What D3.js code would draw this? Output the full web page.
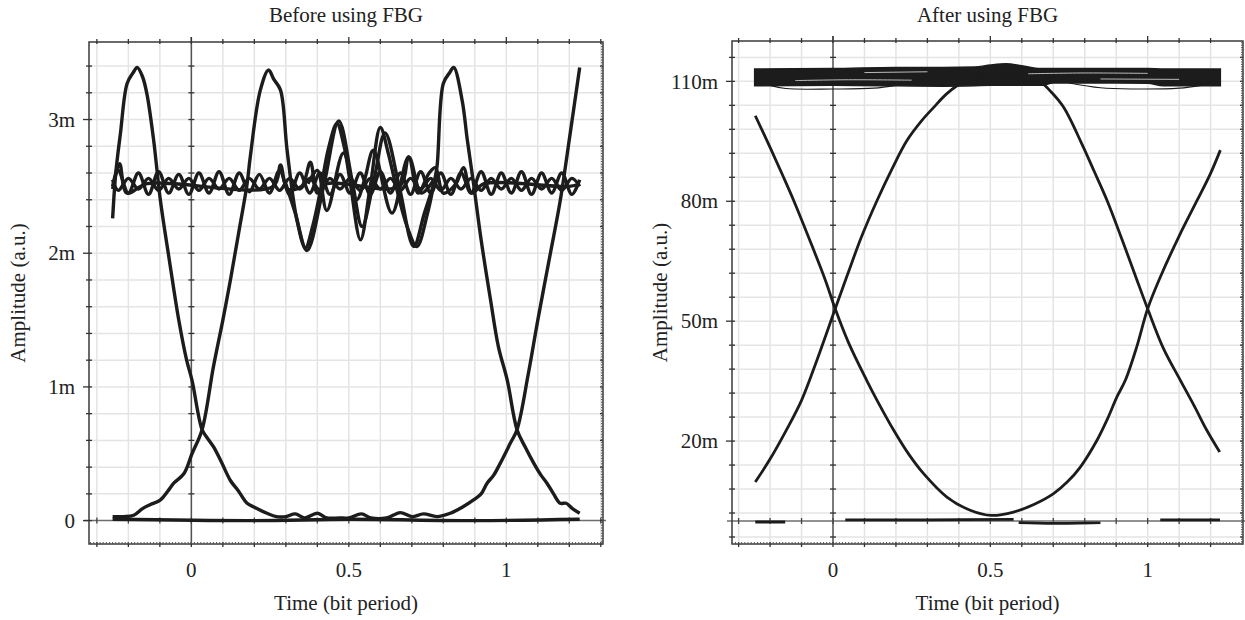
<!DOCTYPE html>
<html>
<head>
<meta charset="utf-8">
<script src="https://cdn.jsdelivr.net/npm/d3@7"></script>
<style>
  body { margin: 0; background: #fff; }
  text { font-family: "Liberation Serif", "DejaVu Serif", serif; fill: #222; }
</style>
</head>
<body>
<script>
// ---- data (time in bit periods, amplitude in m-units) ----

// x tick labels shared by both panels
const timeTicks = [0, 0.5, 1];
const timeTickLabels = ["0", "0.5", "1"];

// before FBG
const beforeTicks = [0, 1, 2, 3];
const beforeTickLabels = ["0", "1m", "2m", "3m"];

// pulse falling from first peak, tail near zero, rising to last peak
const beforeEdgeA = [
  [-0.25, 2.26], [-0.24, 2.6], [-0.225, 2.9], [-0.204, 3.27], [-0.185, 3.35], [-0.172, 3.39],
  [-0.155, 3.32], [-0.141, 3.19], [-0.12, 2.85], [-0.098, 2.39], [-0.07, 1.95], [-0.04, 1.5],
  [-0.015, 1.2], [0.002, 1.05], [0.034, 0.68], [0.05, 0.62], [0.071, 0.55], [0.095, 0.44],
  [0.124, 0.3], [0.15, 0.22], [0.177, 0.13], [0.2, 0.1], [0.24, 0.055], [0.27, 0.03],
  [0.3, 0.03], [0.33, 0.05], [0.36, 0.02], [0.4, 0.055], [0.43, 0.02], [0.47, 0.02],
  [0.5, 0.02], [0.54, 0.05], [0.57, 0.02], [0.62, 0.02], [0.663, 0.06], [0.7, 0.03],
  [0.737, 0.05], [0.78, 0.03], [0.822, 0.055], [0.86, 0.1], [0.896, 0.155], [0.92, 0.2],
  [0.939, 0.28], [0.96, 0.34], [0.981, 0.43], [1.013, 0.58], [1.034, 0.68], [1.07, 1.1],
  [1.1, 1.5], [1.14, 2.0], [1.171, 2.39], [1.203, 2.9], [1.233, 3.39]
];

// rising from zero, middle peak, ringing, last peak, falling tail
const beforeEdgeB = [
  [-0.25, 0.03], [-0.215, 0.03], [-0.183, 0.04], [-0.155, 0.09], [-0.13, 0.12], [-0.098, 0.155],
  [-0.075, 0.22], [-0.056, 0.28], [-0.024, 0.35], [0.002, 0.5], [0.034, 0.68], [0.07, 1.15],
  [0.1, 1.5], [0.124, 1.8], [0.15, 2.15], [0.177, 2.52], [0.187, 2.72], [0.219, 3.22],
  [0.245, 3.37], [0.262, 3.3], [0.283, 3.22], [0.304, 2.77], [0.335, 2.25], [0.362, 2.04],
  [0.385, 2.2], [0.41, 2.47], [0.435, 2.78], [0.462, 2.97], [0.485, 2.8], [0.505, 2.52],
  [0.537, 2.1], [0.568, 2.5], [0.6, 2.94], [0.625, 2.75], [0.65, 2.5], [0.685, 2.2],
  [0.716, 2.05], [0.75, 2.3], [0.77, 2.52], [0.78, 2.65], [0.8, 3.27], [0.82, 3.35],
  [0.833, 3.39], [0.86, 3.14], [0.876, 2.85], [0.896, 2.52], [0.92, 2.1], [0.95, 1.65],
  [0.975, 1.3], [1.003, 1.05], [1.034, 0.68], [1.06, 0.55], [1.087, 0.43], [1.11, 0.34],
  [1.129, 0.28], [1.15, 0.2], [1.171, 0.13], [1.19, 0.13], [1.21, 0.09], [1.233, 0.055]
];

// extra ringing traces around the "1" level
const beforeOscB = [
  [0.3, 2.52], [0.33, 2.3], [0.367, 2.02], [0.42, 2.5], [0.468, 2.99], [0.51, 2.55],
  [0.542, 2.2], [0.58, 2.55], [0.615, 2.9], [0.66, 2.5], [0.706, 2.05], [0.74, 2.3], [0.77, 2.52]
];
const beforeOscC = [
  [0.37, 2.52], [0.4, 2.62], [0.43, 2.32], [0.483, 2.75], [0.525, 2.4], [0.55, 2.55],
  [0.578, 2.77], [0.637, 2.3], [0.69, 2.72], [0.73, 2.45], [0.77, 2.55]
];

// "1" level with ripple
const beforeRippleA = [
  [-0.25, 2.48], [-0.232, 2.62], [-0.2, 2.45], [-0.168, 2.6], [-0.136, 2.44], [-0.104, 2.61],
  [-0.072, 2.45], [-0.04, 2.59], [-0.008, 2.44], [0.024, 2.6], [0.056, 2.45], [0.088, 2.61],
  [0.12, 2.44], [0.152, 2.6], [0.184, 2.46], [0.216, 2.59], [0.248, 2.45], [0.28, 2.62],
  [0.312, 2.44], [0.344, 2.6], [0.376, 2.45], [0.408, 2.6], [0.44, 2.44], [0.472, 2.59],
  [0.504, 2.45], [0.536, 2.6], [0.568, 2.44], [0.6, 2.61], [0.632, 2.45], [0.664, 2.6],
  [0.696, 2.44], [0.728, 2.61], [0.76, 2.45], [0.792, 2.6], [0.824, 2.44], [0.856, 2.6],
  [0.888, 2.45], [0.92, 2.61], [0.952, 2.44], [0.984, 2.6], [1.016, 2.45], [1.048, 2.61],
  [1.08, 2.44], [1.112, 2.6], [1.144, 2.45], [1.176, 2.6], [1.208, 2.44], [1.233, 2.55]
];
const beforeRippleB = [
  [-0.25, 2.55], [-0.232, 2.47], [-0.2, 2.56], [-0.168, 2.48], [-0.136, 2.56], [-0.104, 2.47],
  [-0.072, 2.56], [-0.04, 2.48], [-0.008, 2.56], [0.024, 2.47], [0.056, 2.56], [0.088, 2.48],
  [0.12, 2.56], [0.152, 2.47], [0.184, 2.56], [0.216, 2.48], [0.248, 2.56], [0.28, 2.47],
  [0.312, 2.56], [0.344, 2.48], [0.376, 2.56], [0.408, 2.47], [0.44, 2.56], [0.472, 2.48],
  [0.504, 2.56], [0.536, 2.47], [0.568, 2.56], [0.6, 2.48], [0.632, 2.56], [0.664, 2.47],
  [0.696, 2.56], [0.728, 2.48], [0.76, 2.56], [0.792, 2.47], [0.824, 2.56], [0.856, 2.48],
  [0.888, 2.56], [0.92, 2.47], [0.952, 2.56], [0.984, 2.48], [1.016, 2.56], [1.048, 2.47],
  [1.08, 2.56], [1.112, 2.48], [1.144, 2.56], [1.176, 2.47], [1.208, 2.56], [1.233, 2.5]
];
const beforeRippleC = [
  [-0.25, 2.5], [-0.228, 2.67], [-0.205, 2.45], [-0.14, 2.52], [0.26, 2.5], [0.283, 2.66],
  [0.305, 2.48], [0.35, 2.5], [0.378, 2.68], [0.4, 2.45], [0.43, 2.52], [0.66, 2.5],
  [0.69, 2.72], [0.72, 2.45], [0.755, 2.6], [0.775, 2.64], [0.8, 2.45], [0.84, 2.52],
  [0.864, 2.64], [0.89, 2.45], [0.93, 2.52], [1.2, 2.5], [1.233, 2.52]
];
// "0" level
const beforeZero = [[-0.25, 0.01], [0.2, 0.0], [0.5, 0.01], [0.9, 0.0], [1.233, 0.01]];

// after FBG
const afterTicks = [20, 50, 80, 110];
const afterTickLabels = ["20m", "50m", "80m", "110m"];

const afterFallRise = [
  [-0.247, 101.4], [-0.2, 93.5], [-0.16, 86.5], [-0.125, 80.2], [-0.075, 70.5], [-0.024, 60.2],
  [0.007, 53.1], [0.05, 44.5], [0.107, 35.2], [0.14, 30.2], [0.193, 22.7], [0.24, 16.8],
  [0.288, 11.85], [0.362, 6.0], [0.436, 2.7], [0.503, 1.4], [0.574, 2.25], [0.64, 4.2],
  [0.701, 6.85], [0.745, 9.8], [0.786, 13.5], [0.839, 20.2], [0.872, 25.5], [0.902, 31],
  [0.929, 35.2], [0.965, 43.5], [1.0, 53.1], [1.04, 61], [1.1, 71.3], [1.157, 80.2],
  [1.2, 87], [1.231, 92.8]
];
const afterRiseFall = [
  [-0.247, 9.75], [-0.2, 15.5], [-0.15, 22.5], [-0.1, 30.2], [-0.05, 40.5], [0.007, 53.1],
  [0.05, 62.5], [0.09, 71], [0.14, 80.2], [0.19, 88.5], [0.235, 95.2],
  [0.28, 100], [0.32, 103.5], [0.36, 106.8], [0.394, 108.9], [0.415, 109.8], [0.46, 110.8],
  [0.52, 111.2], [0.6, 110.8], [0.659, 109.75], [0.695, 107.2], [0.733, 103.5], [0.79, 94.5],
  [0.83, 87.5], [0.871, 80.2], [0.93, 68], [0.965, 60.5], [1.0, 53.1], [1.05, 43.2],
  [1.104, 35.2], [1.15, 28.5], [1.188, 22.7], [1.229, 17.25]
];
// thick "1" band: upper and lower edges at the same times
const afterBandTime = [-0.249, 0.0, 0.2, 0.35, 0.45, 0.5, 0.55, 0.6, 0.66, 0.7, 0.9, 1.0, 1.05, 1.231];
const afterBandUpper = [113.1, 113.2, 113.5, 113.5, 113.6, 114.1, 114.4, 113.9, 113.2, 113.2, 113.2, 113.2, 113.1, 113.1];
const afterBandLower = [108.9, 109.0, 108.9, 108.8, 108.9, 109.0, 109.0, 109.0, 109.0, 109.6, 109.6, 109.5, 108.9, 108.9];
const afterLoops = [
  [[-0.2, 109], [-0.15, 108.2], [0.0, 108.1], [0.13, 108.3], [0.2, 109]],
  [[0.75, 109.6], [0.85, 108.4], [0.95, 108.1], [1.1, 108.3], [1.17, 109]]
];
// light streaks inside the band
const afterBandGaps = [
  [[-0.12, 110.2], [0.05, 110.4], [0.25, 110.3]],
  [[0.1, 112.2], [0.3, 112.4]],
  [[0.62, 111.9], [0.8, 112.1], [1.0, 112.0]],
  [[0.85, 110.6], [1.1, 110.5]]
];
// "0" level, drawn in pieces
const afterZero = [
  [-0.247, -0.25], [-0.152, -0.25], null,
  [0.039, 0.3], [0.3, 0.3], [0.574, 0.4], null,
  [0.59, -0.4], [0.7, -0.6], [0.85, -0.4], null,
  [1.04, 0.3], [1.23, 0.3]
];

// ---- layout ----
const svg = d3.select("body").append("svg")
  .attr("width", 1245)
  .attr("height", 620);

const timeGrid = d3.range(-3, 14).map(i => i / 10);

const panels = [
  {
    title: "Before using FBG",
    left: 89, right: 603, top: 42, bottom: 544,
    xDomain: [-0.325, 1.307], yDomain: [-0.175, 3.58],
    yGrid: d3.range(0, 18).map(i => i * 0.2),
    yMinor: 0.02,
    yTicks: beforeTicks, yTickLabels: beforeTickLabels,
    labelX: 25, strokeW: 3.4,
    traces: [beforeRippleA, beforeRippleB, beforeRippleC, beforeOscB, beforeOscC, beforeEdgeA, beforeEdgeB, beforeZero]
  },
  {
    title: "After using FBG",
    left: 732, right: 1243, top: 41, bottom: 544,
    xDomain: [-0.321, 1.303], yDomain: [-5.75, 120.1],
    yGrid: d3.range(-4, 120, 6),
    yMinor: 0.6,
    yTicks: afterTicks, yTickLabels: afterTickLabels,
    labelX: 667, strokeW: 2.8,
    traces: [afterFallRise, afterRiseFall, afterZero]
  }
];

const drawPanel = (p, idx) => {
  let g = svg.append("g");
  let x = d3.scaleLinear().domain(p.xDomain).range([p.left, p.right]);
  let y = d3.scaleLinear().domain(p.yDomain).range([p.bottom, p.top]);
  let yGrid = p.yGrid.filter(v => y(v) > p.top + 1 && y(v) < p.bottom - 1);
  let xGrid = timeGrid.filter(t => x(t) > p.left + 1 && x(t) < p.right - 1);

  // grid
  g.selectAll(".gx").data(xGrid).join("line")
    .attr("x1", t => x(t)).attr("x2", t => x(t))
    .attr("y1", p.top).attr("y2", p.bottom)
    .attr("stroke", "#e4e4e4").attr("stroke-width", 1.5);
  g.selectAll(".gy").data(yGrid.filter(v => Math.abs(v) > 1e-9)).join("line")
    .attr("x1", p.left).attr("x2", p.right)
    .attr("y1", v => y(v)).attr("y2", v => y(v))
    .attr("stroke", "#e4e4e4").attr("stroke-width", 1.5);

  // axes through zero
  g.append("line")
    .attr("x1", p.left - 5).attr("x2", p.right + 3)
    .attr("y1", y(0)).attr("y2", y(0))
    .attr("stroke", "#6e6e6e").attr("stroke-width", 1.5);
  g.append("line")
    .attr("x1", x(0)).attr("x2", x(0))
    .attr("y1", p.top - 5).attr("y2", p.bottom)
    .attr("stroke", "#555").attr("stroke-width", 1.5);
  g.selectAll(".tz").data(yGrid).join("line")
    .attr("x1", x(0) - 3).attr("x2", x(0) + 3)
    .attr("y1", v => y(v)).attr("y2", v => y(v))
    .attr("stroke", "#333").attr("stroke-width", 1.3);
  g.selectAll(".tzx").data(xGrid).join("line")
    .attr("x1", t => x(t)).attr("x2", t => x(t))
    .attr("y1", y(0) - 3).attr("y2", y(0) + 3)
    .attr("stroke", "#444").attr("stroke-width", 1.3);

  // traces
  let clipId = "clip" + idx;
  svg.append("clipPath").attr("id", clipId)
    .append("rect")
    .attr("x", p.left).attr("y", p.top)
    .attr("width", p.right - p.left).attr("height", p.bottom - p.top);
  let plot = g.append("g").attr("clip-path", `url(#${clipId})`);
  let line = d3.line().defined(d => d)
    .curve(d3.curveCatmullRom.alpha(0.5))
    .x(d => x(d[0])).y(d => y(d[1]));

  if (idx === 1) {
    let band = d3.area()
      .curve(d3.curveMonotoneX)
      .x((d, i) => x(afterBandTime[i]))
      .y0((d, i) => y(afterBandLower[i]))
      .y1(d => y(d));
    plot.append("path").datum(afterBandUpper)
      .attr("d", band).attr("fill", "#1c1c1c").attr("stroke", "#1c1c1c").attr("stroke-width", 1.5);
    plot.selectAll(".gap").data(afterBandGaps).join("path")
      .attr("d", line).attr("fill", "none").attr("stroke", "#bbb").attr("stroke-width", 1);
    plot.selectAll(".loop").data(afterLoops).join("path")
      .attr("d", line).attr("fill", "none").attr("stroke", "#1c1c1c").attr("stroke-width", 1.1);
  }

  plot.selectAll(".trace").data(p.traces).join("path")
    .attr("d", line)
    .attr("fill", "none")
    .attr("stroke", "#1c1c1c")
    .attr("stroke-width", p.strokeW)
    .attr("stroke-linejoin", "round");

  // frame
  g.append("rect")
    .attr("x", p.left).attr("y", p.top)
    .attr("width", p.right - p.left).attr("height", p.bottom - p.top)
    .attr("fill", "none").attr("stroke", "#3a3a3a").attr("stroke-width", 1.5);

  // spine ticks
  g.selectAll(".tl").data(yGrid).join("line")
    .attr("x1", v => p.yTicks.some(k => Math.abs(k - v) < 1e-6) ? p.left - 6 : p.left - 3)
    .attr("x2", p.left + 3)
    .attr("y1", v => y(v)).attr("y2", v => y(v))
    .attr("stroke", "#333").attr("stroke-width", 1.3);
  g.selectAll(".tr").data(yGrid).join("line")
    .attr("x1", p.right - 3).attr("x2", p.right)
    .attr("y1", v => y(v)).attr("y2", v => y(v))
    .attr("stroke", "#333").attr("stroke-width", 1.3);
  let rightMinor = d3.range(p.yDomain[0], p.yDomain[1], p.yMinor);
  g.selectAll(".trm").data(rightMinor).join("line")
    .attr("x1", p.right - 2).attr("x2", p.right)
    .attr("y1", v => y(v)).attr("y2", v => y(v))
    .attr("stroke", "#555").attr("stroke-width", 1);
  g.selectAll(".tt").data(xGrid).join("line")
    .attr("x1", t => x(t)).attr("x2", t => x(t))
    .attr("y1", t => timeTicks.includes(Math.round(t * 10) / 10) ? p.top - 5 : p.top - 3)
    .attr("y2", p.top + 2)
    .attr("stroke", "#333").attr("stroke-width", 1.3);
  g.selectAll(".tb").data(xGrid).join("line")
    .attr("x1", t => x(t)).attr("x2", t => x(t))
    .attr("y1", p.bottom - 2).attr("y2", p.bottom + 3)
    .attr("stroke", "#333").attr("stroke-width", 1.3);
  let bottomMinor = d3.range(-32, 131).map(i => i / 100);
  g.selectAll(".tbm").data(bottomMinor.filter(t => x(t) > p.left && x(t) < p.right)).join("line")
    .attr("x1", t => x(t)).attr("x2", t => x(t))
    .attr("y1", p.bottom - 2).attr("y2", p.bottom)
    .attr("stroke", "#555").attr("stroke-width", 1);

  // labels
  g.selectAll(".yl").data(p.yTicks).join("text")
    .attr("x", p.left - 14)
    .attr("y", v => y(v))
    .attr("dy", "0.34em")
    .attr("text-anchor", "end")
    .attr("font-size", 21)
    .text((v, i) => p.yTickLabels[i]);
  g.selectAll(".xl").data(timeTicks).join("text")
    .attr("x", t => x(t))
    .attr("y", 577)
    .attr("text-anchor", "middle")
    .attr("font-size", 21)
    .text((t, i) => timeTickLabels[i]);
  g.append("text")
    .attr("x", (p.left + p.right) / 2).attr("y", 610)
    .attr("text-anchor", "middle").attr("font-size", 21)
    .text("Time (bit period)");
  g.append("text")
    .attr("x", (p.left + p.right) / 2).attr("y", 22)
    .attr("text-anchor", "middle").attr("font-size", 21)
    .text(p.title);
  g.append("text")
    .attr("transform", `translate(${p.labelX},${(p.top + p.bottom) / 2}) rotate(-90)`)
    .attr("text-anchor", "middle").attr("font-size", 21)
    .text("Amplitude (a.u.)");
};

panels.forEach(drawPanel);
</script>
</body>
</html>
